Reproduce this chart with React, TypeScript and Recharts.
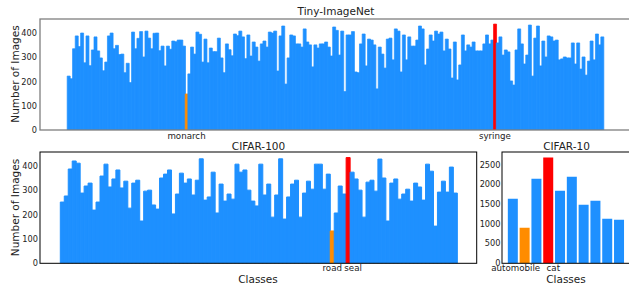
import React from 'react';
import { BarChart, Bar, XAxis, YAxis, Cell } from 'recharts';

const BLUE = '#1E90FF';
const ORANGE = '#FF8C00';
const RED = '#FF0000';
const FONT = '"DejaVu Sans", sans-serif';
const TEXT = '#222222';

// ---------- Tiny-ImageNet (200 classes) ----------
const TINY_COUNTS = [
  223, 212, 336, 389, 345, 401, 278, 389, 266, 331, 385, 327, 298, 245, 281, 389, 401, 336, 350, 312,
  314, 237, 276, 196, 405, 336, 379, 407, 302, 409, 380, 336, 400,
  401, 328, 347, 265, 347, 334, 368, 365, 372, 372, 347, 149, 232, 343, 314, 405, 396, 281, 376, 278,
  339, 324, 324, 380, 298, 237, 356, 332, 307, 397, 390, 409, 385, 295,
  393, 306, 364, 343, 285, 356, 368, 343, 405, 401, 409, 244, 389, 430, 190, 298, 393, 389, 356, 356,
  343, 418, 364, 352, 261, 352, 339, 356, 356, 364, 343, 306, 426,
  412, 310, 409, 159, 393, 393, 407, 240, 237, 356, 397, 265, 376, 372, 352, 170, 343, 314, 256, 376,
  380, 290, 418, 409, 240, 393, 290, 385, 347, 347, 372, 430, 418, 269,
  335, 393, 368, 409, 397, 405, 327, 376, 335, 215, 364, 207, 269, 393, 327, 352, 343, 364, 327, 327,
  327, 356, 393, 356, 372, 438, 360, 385, 310, 331, 323, 203, 186,
  331, 418, 356, 273, 310, 434, 223, 380, 430, 265, 368, 302, 389, 385, 368, 372, 290, 294, 302, 298,
  298, 360, 273, 360, 252, 302, 227, 285, 368, 290, 397, 352, 385,
];
const TINY_HIGHLIGHTS = [
  { index: 44, label: 'monarch', color: ORANGE },
  { index: 159, label: 'syringe', color: RED },
];
const TINY_Y_TICKS = [0, 100, 200, 300, 400];

// ---------- CIFAR-100 ----------
const C100_CLASSES = [
  'apple', 'aquarium_fish', 'baby', 'bear', 'beaver', 'bed', 'bee', 'beetle', 'bicycle', 'bottle',
  'bowl', 'boy', 'bridge', 'bus', 'butterfly', 'camel', 'can', 'castle', 'caterpillar', 'cattle',
  'chair', 'chimpanzee', 'clock', 'cloud', 'cockroach', 'couch', 'crab', 'crocodile', 'cup', 'dinosaur',
  'dolphin', 'elephant', 'flatfish', 'forest', 'fox', 'girl', 'hamster', 'house', 'kangaroo', 'keyboard',
  'lamp', 'lawn_mower', 'leopard', 'lion', 'lizard', 'lobster', 'man', 'maple_tree', 'motorcycle', 'mountain',
  'mouse', 'mushroom', 'oak_tree', 'orange', 'orchid', 'otter', 'palm_tree', 'pear', 'pickup_truck', 'pine_tree',
  'plain', 'plate', 'poppy', 'porcupine', 'possum', 'rabbit', 'raccoon', 'ray', 'road', 'rocket',
  'rose', 'sea', 'seal', 'shark', 'shrew', 'skunk', 'skyscraper', 'snail', 'snake', 'spider',
  'squirrel', 'streetcar', 'sunflower', 'sweet_pepper', 'table', 'tank', 'telephone', 'television', 'tiger', 'tractor',
  'train', 'trout', 'tulip', 'turtle', 'wardrobe', 'whale', 'willow_tree', 'wolf', 'woman', 'worm',
];
const C100_COUNTS = [
  252, 277, 388, 421, 412, 289, 318, 330, 219, 252, 359, 408, 314, 347, 384, 310, 338, 227, 330, 342,
  174, 297, 301, 240, 223, 351, 367, 384, 203, 285, 371, 330, 347, 281, 342, 430, 260, 273, 375, 207,
  326, 256, 285, 264, 408, 375, 384, 301, 256, 236, 408, 281, 326, 190, 281, 430, 182, 273, 326, 342,
  190, 289, 338, 305, 408, 408, 305, 367, 133, 207, 318, 285, 435, 375, 347, 301, 190, 334, 342, 297,
  429, 351, 174, 330, 347, 264, 285, 305, 256, 330, 314, 260, 408, 379, 153, 293, 338, 293, 396, 289,
];
const C100_HIGHLIGHTS = [
  { label: 'road', color: ORANGE },
  { label: 'seal', color: RED },
];
const C100_Y_TICKS = [0, 100, 200, 300, 400];

// ---------- CIFAR-10 ----------
const C10_CLASSES = ['airplane', 'automobile', 'bird', 'cat', 'deer', 'dog', 'frog', 'horse', 'ship', 'truck'];
const C10_COUNTS = [1636, 898, 2144, 2678, 1839, 2195, 1483, 1585, 1127, 1102];
const C10_HIGHLIGHTS = [
  { label: 'automobile', color: ORANGE },
  { label: 'cat', color: RED },
];
const C10_Y_TICKS = [0, 500, 1000, 1500, 2000, 2500];

// horizontal nudges (px) of tick labels, as in the reference, to keep them apart
const LABEL_NUDGE: Record<string, number> = { seal: 5, automobile: -9, cat: 5 };

// ---------- data tables ----------
const tinyData = TINY_COUNTS.map((v, i) => {
  const h = TINY_HIGHLIGHTS.find((x) => x.index === i);
  return { name: 'class_' + i, label: h ? h.label : '', value: v, color: h ? h.color : BLUE };
});
const c100Data = C100_CLASSES.map((c, i) => {
  const h = C100_HIGHLIGHTS.find((x) => x.label === c);
  return { name: c, label: h ? h.label : '', value: C100_COUNTS[i], color: h ? h.color : BLUE };
});
const c10Data = C10_CLASSES.map((c, i) => {
  const h = C10_HIGHLIGHTS.find((x) => x.label === c);
  return { name: c, label: h ? h.label : '', value: C10_COUNTS[i], color: h ? h.color : BLUE };
});

const makeTick = (data: { name: string; label: string }[]) => (props: any) => {
  const { x, y, payload } = props;
  const d = data.find((e) => e.name === payload.value);
  if (!d || !d.label) return <g />;
  const nudge = LABEL_NUDGE[d.label] || 0;
  return (
    <text x={x + nudge} y={y} dy="0.71em" textAnchor="middle" fontSize={8.7} fontFamily={FONT} fill={TEXT}>
      {d.label}
    </text>
  );
};

const yTick = { fontSize: 8.2, fill: TEXT, fontFamily: FONT };

export default function App() {
  return (
    <div
      style={{
        position: 'absolute',
        left: 0,
        top: 0,
        width: 629,
        height: 284,
        overflow: 'hidden',
        background: '#fff',
      }}
    >
      {/* Tiny-ImageNet */}
      <div style={{ position: 'absolute', left: 0, top: 0 }}>
        <BarChart
          width={640}
          height={145}
          data={tinyData}
          margin={{ top: 19, right: 10, bottom: 0, left: 0 }}
          barCategoryGap={0}
          barGap={0}
        >
          <XAxis
            dataKey="name"
            interval={0}
            tick={makeTick(tinyData)}
            tickLine={false}
            axisLine={false}
            tickSize={0}
            tickMargin={2.5}
            height={15}
            padding={{ left: 27.2, right: 26.5 }}
          />
          <YAxis
            type="number"
            domain={[0, 459]}
            ticks={TINY_Y_TICKS}
            tick={yTick}
            tickLine={false}
            axisLine={false}
            tickSize={0}
            tickMargin={3}
            width={40}
            allowDataOverflow
          />
          <Bar dataKey="value" isAnimationActive={false} strokeWidth={0.7}>
            {tinyData.map((d, i) => (
              <Cell key={i} fill={d.color} stroke={d.color} />
            ))}
          </Bar>
        </BarChart>
      </div>

      {/* CIFAR-100 */}
      <div style={{ position: 'absolute', left: 0, top: 140 }}>
        <BarChart
          width={480}
          height={144}
          data={c100Data}
          margin={{ top: 12, right: 3.3, bottom: 0, left: 0 }}
          barCategoryGap={0}
          barGap={0}
        >
          <XAxis
            dataKey="name"
            interval={0}
            tick={makeTick(c100Data)}
            tickLine={false}
            axisLine={false}
            tickSize={0}
            tickMargin={1.5}
            height={20.7}
            padding={{ left: 20.3, right: 19.4 }}
          />
          <YAxis
            type="number"
            domain={[0, 458]}
            ticks={C100_Y_TICKS}
            tick={yTick}
            tickLine={false}
            axisLine={false}
            tickSize={0}
            tickMargin={2}
            width={40}
            allowDataOverflow
          />
          <Bar dataKey="value" isAnimationActive={false} strokeWidth={1}>
            {c100Data.map((d, i) => (
              <Cell key={i} fill={d.color} stroke={d.color} />
            ))}
          </Bar>
        </BarChart>
      </div>

      {/* CIFAR-10 */}
      <div style={{ position: 'absolute', left: 462, top: 140 }}>
        <BarChart
          width={180}
          height={144}
          data={c10Data}
          margin={{ top: 12, right: 12, bottom: 0, left: 0 }}
          barCategoryGap="7%"
          barGap={0}
        >
          <XAxis
            dataKey="name"
            interval={0}
            tick={makeTick(c10Data)}
            tickLine={false}
            axisLine={false}
            tickSize={0}
            tickMargin={1.5}
            height={20.7}
            padding={{ left: 5, right: 5 }}
          />
          <YAxis
            type="number"
            domain={[0, 2820]}
            ticks={C10_Y_TICKS}
            tick={yTick}
            tickLine={false}
            axisLine={false}
            tickSize={0}
            tickMargin={1.5}
            width={40}
            allowDataOverflow
          />
          <Bar dataKey="value" isAnimationActive={false}>
            {c10Data.map((d, i) => (
              <Cell key={i} fill={d.color} />
            ))}
          </Bar>
        </BarChart>
      </div>

      {/* frames, titles, axis labels */}
      <svg
        width={629}
        height={284}
        style={{ position: 'absolute', left: 0, top: 0, pointerEvents: 'none' }}
      >
        <rect x={40} y={19} width={590} height={111} fill="none" stroke="#7f7f7f" strokeWidth={1.3} />
        <rect x={40} y={152} width={436.7} height={111.3} fill="none" stroke="#000" strokeWidth={1} />
        <rect x={502} y={152} width={128} height={111.3} fill="none" stroke="#000" strokeWidth={1} />

        <g fontFamily={FONT} fill={TEXT} fontSize={10.5} textAnchor="middle">
          <text x={336} y={15}>Tiny-ImageNet</text>
          <text x={258.5} y={150}>CIFAR-100</text>
          <text x={566.5} y={150}>CIFAR-10</text>
          <text x={258} y={282.5}>Classes</text>
          <text x={566} y={282.5}>Classes</text>
          <text x={18.5} y={74} transform="rotate(-90 18.5 74)">Number of Images</text>
          <text x={18.5} y={207.5} transform="rotate(-90 18.5 207.5)">Number of Images</text>
        </g>
      </svg>
    </div>
  );
}
